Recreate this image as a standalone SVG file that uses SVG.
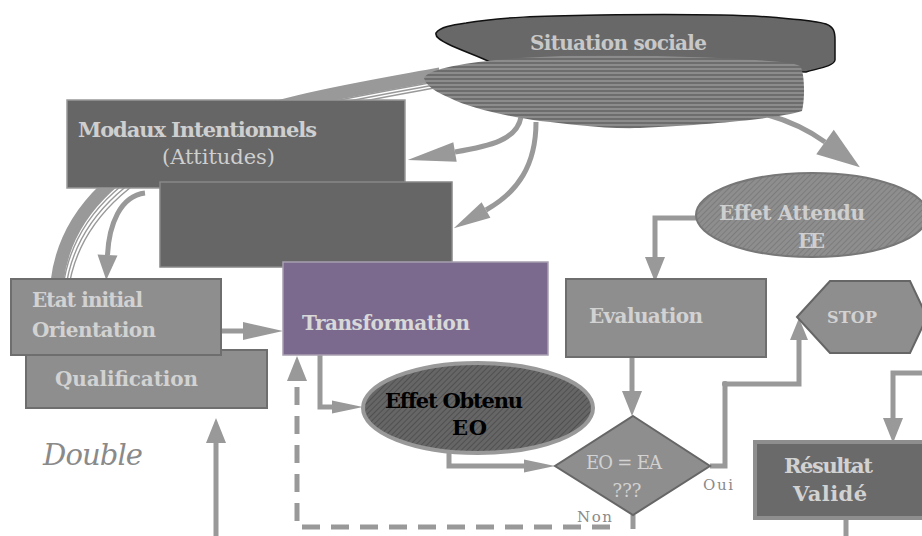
<svg xmlns="http://www.w3.org/2000/svg" width="922" height="536" viewBox="0 0 922 536">
  <style>
    text { font-family: "DejaVu Serif", "Liberation Serif", serif; }
    .b { font-weight: bold; }
    .lt { fill: #cfcfcf; }
    .con { fill: none; stroke: #999; stroke-width: 5; }
    .box { fill: #8e8e8e; stroke: #6e6e6e; stroke-width: 2; }
    .dbox { fill: #666; stroke: #999; stroke-width: 1.5; }
  </style>
  <defs>
    <pattern id="hstripe" width="8" height="4" patternUnits="userSpaceOnUse">
      <rect width="8" height="4" fill="#8c8c8c"/>
      <line x1="0" y1="3" x2="8" y2="3" stroke="#5c5c5c" stroke-width="1.3"/>
    </pattern>
    <pattern id="hatchL" width="4" height="4" patternUnits="userSpaceOnUse" patternTransform="rotate(45)">
      <rect width="4" height="4" fill="#8e8e8e"/>
      <line x1="0" y1="0" x2="0" y2="4" stroke="#767676" stroke-width="1.5"/>
    </pattern>
    <pattern id="hatchD" width="4" height="4" patternUnits="userSpaceOnUse" patternTransform="rotate(45)">
      <rect width="4" height="4" fill="#666"/>
      <line x1="0" y1="0" x2="0" y2="4" stroke="#484848" stroke-width="1.5"/>
    </pattern>
    <marker id="a1" viewBox="0 -10 40 20" refX="0" refY="0" markerUnits="userSpaceOnUse" markerWidth="40" markerHeight="20" orient="auto" overflow="visible">
      <path d="M0,-9 L40,0 L0,9 z" fill="#999"/>
    </marker>
    <marker id="a2" viewBox="0 -10 25 20" refX="0" refY="0" markerUnits="userSpaceOnUse" markerWidth="25" markerHeight="20" orient="auto" overflow="visible">
      <path d="M0,-10 L25,0 L0,10 z" fill="#999"/>
    </marker>
    <marker id="a3" viewBox="0 -7 31 14" refX="0" refY="0" markerUnits="userSpaceOnUse" markerWidth="31" markerHeight="14" orient="auto" overflow="visible">
      <path d="M0,-6.5 L31,0 L0,6.5 z" fill="#999"/>
    </marker>
    <marker id="a4" viewBox="0 -10 48 20" refX="0" refY="0" markerUnits="userSpaceOnUse" markerWidth="48" markerHeight="20" orient="auto" overflow="visible">
      <path d="M0,-10 L48,0 L0,10 z" fill="#999"/>
    </marker>
    <marker id="a5" viewBox="0 -10 37 20" refX="0" refY="0" markerUnits="userSpaceOnUse" markerWidth="37" markerHeight="20" orient="auto" overflow="visible">
      <path d="M0,-9 L37,0 L0,9 z" fill="#999"/>
    </marker>
    <marker id="a6" viewBox="0 -15 43 30" refX="0" refY="0" markerUnits="userSpaceOnUse" markerWidth="43" markerHeight="30" orient="auto" overflow="visible">
      <path d="M0,-15 L43,0 L0,15 z" fill="#999"/>
    </marker>
    <marker id="a7" viewBox="0 -9 22 18" refX="0" refY="0" markerUnits="userSpaceOnUse" markerWidth="22" markerHeight="18" orient="auto" overflow="visible">
      <path d="M0,-9 L22,0 L0,9 z" fill="#999"/>
    </marker>
  </defs>

  <g id="connectors">
    <g id="swoosh" fill="none" stroke="#999">
      <path d="M440 74 C 300 100, 75 130, 57 282" stroke-width="13"/>
      <path d="M440 74 C 300 100, 75 130, 57 282" stroke-width="1.4" transform="translate(6,6)"/>
      <path d="M440 74 C 300 100, 75 130, 57 282" stroke-width="1.4" transform="translate(8.5,8.5)"/>
      <path d="M440 74 C 300 100, 75 130, 57 282" stroke-width="1.4" transform="translate(11,11)"/>
    </g>
    <path class="con" d="M145 193 C 120 196, 109 225, 107.5 255" marker-end="url(#a2)"/>
    <path class="con" d="M521 117 C 517 140, 490 146, 455 152" stroke-width="7" marker-end="url(#a4)"/>
    <path class="con" d="M536 122 C 536 165, 518 192, 486 210" stroke-width="7" marker-end="url(#a5)"/>
    <path class="con" d="M768 115 Q 800 124, 825 142" stroke-width="11" marker-end="url(#a6)"/>
    <path class="con" d="M699 218 H655 V257" marker-end="url(#a2)"/>
    <path class="con" d="M221 331 H243" marker-end="url(#a1)"/>
    <path class="con" d="M320 355 V407 H332" marker-end="url(#a3)"/>
    <path class="con" d="M449 450 V466 H524" marker-end="url(#a3)"/>
    <path class="con" d="M632 357 V391" marker-end="url(#a2)"/>
    <path class="con" d="M710 466 H725 V384 H799 V340" marker-end="url(#a7)"/>
    <circle cx="725" cy="384" r="3" fill="#999"/>
    <path class="con" d="M922 373 H893 V418" marker-end="url(#a2)"/>
    <path class="con" d="M846 518 V536"/>
    <path class="con" d="M633 515 V529"/>
    <path class="con" d="M610 527 H297 V381" stroke-dasharray="18 11" marker-end="url(#a2)"/>
    <path class="con" d="M216 536 V443" marker-end="url(#a2)"/>
  </g>

  <g id="situation-sociale">
    <path d="M436 33 C 440 27, 452 25, 466 23 C 500 17, 540 16, 600 15 C 680 14, 740 15, 770 17 C 790 19, 815 20, 826 24 C 834 27, 835 32, 835 40 L 835 60 C 834 66, 820 68, 806 72 L 490 62 C 478 56, 460 50, 448 44 C 440 40, 435 37, 436 33 z" fill="#686868" stroke="#111" stroke-width="1.5"/>
    <text class="b" x="530" y="50" font-size="20" fill="#c8c8c8" textLength="177">Situation sociale</text>
  </g>

  <g id="cloud2">
    <path d="M424 78 C 430 68, 470 62, 520 58 C 580 54, 660 55, 740 59 C 770 61, 792 62, 800 66 C 805 72, 805 100, 802 111 C 780 118, 720 124, 640 128 C 600 129, 570 124, 540 121 C 500 115, 470 108, 450 98 C 436 92, 426 86, 424 78 z" fill="url(#hstripe)"/>
  </g>

  <g id="modaux">
    <rect class="dbox" x="67" y="100" width="338" height="88"/>
    <text class="b lt" x="78" y="137" font-size="21" textLength="239">Modaux Intentionnels</text>
    <text class="lt" x="162" y="164" font-size="21" textLength="113">(Attitudes)</text>
  </g>

  <g id="box2">
    <rect x="160" y="182" width="292" height="85" fill="#666" stroke="#888" stroke-width="1.5"/>
  </g>

  <g id="transformation">
    <rect x="283" y="262" width="265" height="93" fill="#7b6a8e" stroke="#a8a0b0" stroke-width="1.5"/>
    <text class="b" x="302" y="330" font-size="20" fill="#d8d8d8" textLength="168">Transformation</text>
  </g>

  <g id="qualification">
    <rect class="box" x="26" y="350" width="241" height="58"/>
    <text class="b" x="55" y="386" font-size="20" fill="#d2d2d2" textLength="143">Qualification</text>
  </g>

  <g id="etat-initial">
    <rect class="box" x="11" y="279" width="210" height="76"/>
    <text class="b" x="32" y="307" font-size="20" fill="#d2d2d2" textLength="111">Etat initial</text>
    <text class="b" x="32" y="337" font-size="20" fill="#d2d2d2" textLength="124">Orientation</text>
  </g>

  <g id="effet-attendu">
    <ellipse cx="812" cy="215" rx="116" ry="42" fill="url(#hatchL)" stroke="#777" stroke-width="2"/>
    <text class="b" x="719" y="220" font-size="20" fill="#cfcfcf" textLength="146">Effet Attendu</text>
    <text class="b" x="798" y="248" font-size="20" fill="#cfcfcf" textLength="27">EE</text>
  </g>

  <g id="evaluation">
    <rect class="box" x="566" y="279" width="200" height="78"/>
    <text class="b" x="589" y="323" font-size="20" fill="#d2d2d2" textLength="114">Evaluation</text>
  </g>

  <g id="stop">
    <polygon points="797,317 830,281 910,281 927,317 910,353 830,353" fill="#8e8e8e" stroke="#666" stroke-width="2"/>
    <text class="b" x="827" y="323" font-size="16" fill="#d2d2d2" textLength="50">STOP</text>
  </g>

  <g id="effet-obtenu">
    <ellipse cx="478" cy="408" rx="115" ry="45" fill="url(#hatchD)" stroke="#999" stroke-width="4"/>
    <text class="b" x="385" y="408" font-size="21" fill="#000" textLength="138">Effet Obtenu</text>
    <text class="b" x="452" y="435" font-size="21" fill="#000" textLength="35">EO</text>
  </g>

  <g id="decision">
    <polygon points="633,416 710,466 633,515 555,466" fill="#8e8e8e" stroke="#666" stroke-width="2"/>
    <text x="586" y="469" font-size="18" fill="#d2d2d2" textLength="76">EO = EA</text>
    <text x="627" y="497" font-size="18" fill="#d2d2d2" text-anchor="middle">???</text>
  </g>

  <g id="resultat">
    <rect x="755" y="442" width="175" height="76" fill="#6a6a6a" stroke="#8e8e8e" stroke-width="4"/>
    <text class="b" x="784" y="473" font-size="21" fill="#d2d2d2" textLength="89">Résultat</text>
    <text class="b" x="793" y="501" font-size="21" fill="#d2d2d2" textLength="74">Validé</text>
  </g>

  <g id="labels">
    <text x="703" y="490" font-size="15" fill="#8a8a8a" textLength="30">Oui</text>
    <text x="577" y="522" font-size="15" fill="#8a8a8a" textLength="35">Non</text>
    <text x="43" y="465" font-size="29" font-style="italic" fill="#8a8a8a" textLength="100">Double</text>
  </g>
</svg>
